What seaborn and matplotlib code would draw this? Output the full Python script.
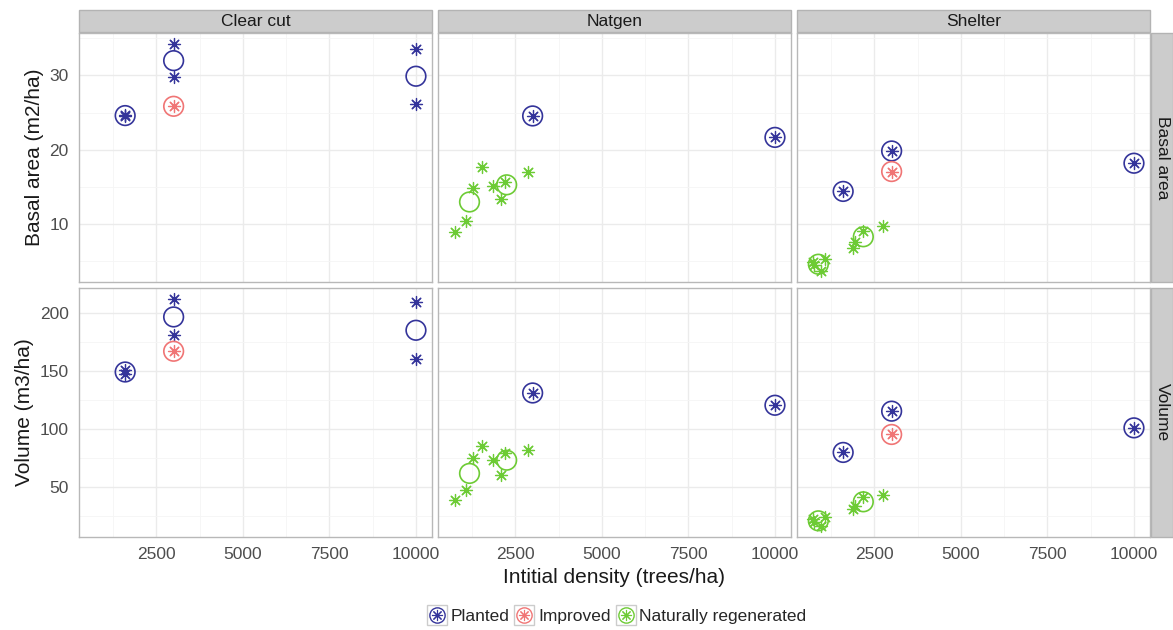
"""
Basal area and volume against initial density, by treatment and origin.
Asterisks are single plots, open circles are the group means.
"""

import matplotlib.pyplot as plt
import pandas as pd
import seaborn as sns
from matplotlib.legend_handler import HandlerTuple
from matplotlib.lines import Line2D
from matplotlib.patches import Rectangle
from matplotlib.ticker import MultipleLocator

treatments = ["Clear cut", "Natgen", "Shelter"]
measures = ["Basal area", "Volume"]
origins = ["Planted", "Improved", "Naturally regenerated"]
y_titles = {"Basal area": "Basal area (m2/ha)", "Volume": "Volume (m3/ha)"}
x_title = "Intitial density (trees/ha)"
x_ticks = [2500, 5000, 7500, 10000]
y_ticks = {"Basal area": [10, 20, 30], "Volume": [50, 100, 150, 200]}

palette = {
    "Planted": "#34349A",
    "Improved": "#F07575",
    "Naturally regenerated": "#6DCB35",
}

P, I, N = origins

# single plots (asterisks)
star_treatment = ["Clear cut"] * 7 + ["Natgen"] * 10 + ["Shelter"] * 12
star_origin = (
    [P] * 6 + [I]
    + [P] * 2 + [N] * 8
    + [P] * 3 + [I] + [N] * 8
)
star_density = [
    1600, 1600, 3000, 3000, 10000, 10000, 3000,
    3000, 10000, 765, 1082, 1272, 1531, 1847, 2089, 2200, 2854,
    1600, 3000, 10000, 3000, 730, 770, 950, 1080, 1880, 1950, 2160, 2740,
]
star_basal = [
    24.7, 24.5, 34.2, 29.8, 33.6, 26.2, 25.85,
    24.55, 21.66, 8.94, 10.36, 14.83, 17.7, 15.05, 13.4, 15.6, 17.06,
    14.38, 19.83, 18.18, 17.06, 4.9, 4.4, 3.7, 5.3, 6.8, 7.5, 9.1, 9.69,
]
star_volume = [
    151.0, 147.0, 211.8, 180.8, 209.5, 160.3, 167.0,
    131.0, 120.4, 38.5, 47.2, 74.5, 85.3, 73.0, 60.1, 78.8, 82.2,
    79.7, 115.3, 100.9, 95.2, 22.5, 19.8, 16.5, 24.0, 30.5, 33.5, 41.0, 43.4,
]

# group means (open circles)
mean_treatment = ["Clear cut"] * 4 + ["Natgen"] * 4 + ["Shelter"] * 6
mean_origin = [P] * 3 + [I] + [P] * 2 + [N] * 2 + [P] * 3 + [I] + [N] * 2
mean_density = [
    1600, 3000, 10000, 3000,
    3000, 10000, 1177, 2250,
    1600, 3000, 10000, 3000, 883, 2182,
]
mean_basal = [
    24.6, 32.0, 29.9, 25.85,
    24.55, 21.66, 12.96, 15.27,
    14.38, 19.83, 18.18, 17.06, 4.57, 8.27,
]
mean_volume = [
    149.1, 196.6, 185.1, 167.0,
    131.0, 120.4, 61.6, 73.0,
    79.7, 115.3, 100.9, 95.2, 20.7, 37.1,
]


def long_table(treatment, origin, density, basal, volume) -> pd.DataFrame:
    """
    Stack basal area and volume into one long table.
    """

    wide = pd.DataFrame(
        {
            "treatment": treatment,
            "origin": origin,
            "density": density,
            "Basal area": basal,
            "Volume": volume,
        }
    )

    return wide.melt(
        id_vars=["treatment", "origin", "density"],
        value_vars=measures,
        var_name="measure",
        value_name="value",
    )


def expanded(values, frac=0.05):
    lo, hi = min(values), max(values)
    pad = (hi - lo) * frac
    return lo - pad, hi + pad


def add_strip(ax, text, side):
    """
    Draw a ggplot style grey strip above or right of a panel.
    """

    if side == "top":
        rect = Rectangle((0, 1.004), 1, 0.088, transform=ax.transAxes)
        ax.text(0.5, 1.048, text, transform=ax.transAxes,
                ha="center", va="center", fontsize=12.5, color="#1A1A1A")
    else:
        rect = Rectangle((1.003, 0), 0.063, 1, transform=ax.transAxes)
        ax.text(1.0345, 0.5, text, transform=ax.transAxes, rotation=-90,
                ha="center", va="center", fontsize=12.5, color="#1A1A1A")

    rect.set(facecolor="#CCCCCC", edgecolor="#B3B3B3", linewidth=1,
             clip_on=False)
    ax.add_patch(rect)


stars = long_table(star_treatment, star_origin, star_density,
                   star_basal, star_volume)
means = long_table(mean_treatment, mean_origin, mean_density,
                   mean_basal, mean_volume)

sns.set_theme(style="white")
plt.rcParams["font.family"] = ["Liberation Sans", "DejaVu Sans"]

g = sns.FacetGrid(
    stars,
    row="measure",
    col="treatment",
    row_order=measures,
    col_order=treatments,
    sharex=True,
    sharey="row",
    despine=False,
)
g.figure.set_size_inches(11.73, 6.3)
g.figure.subplots_adjust(
    left=79 / 1173,
    right=1150 / 1173,
    top=1 - 33 / 630,
    bottom=1 - 537 / 630,
    wspace=6 / 353,
    hspace=6 / 249,
)

x_lim = expanded(star_density + mean_density)
y_lims = {
    "Basal area": expanded(star_basal + mean_basal),
    "Volume": expanded(star_volume + mean_volume),
}
y_minor = {"Basal area": 5, "Volume": 25}

for (measure, treatment), ax in g.axes_dict.items():
    ax.set_title("")
    panel_stars = stars[(stars.measure == measure)
                        & (stars.treatment == treatment)]
    panel_means = means[(means.measure == measure)
                        & (means.treatment == treatment)]

    for origin in origins:
        pts = panel_stars[panel_stars.origin == origin]
        mu = panel_means[panel_means.origin == origin]
        if len(pts):
            sns.scatterplot(data=pts, x="density", y="value",
                            color=palette[origin], marker=(8, 2, 0),
                            s=75, linewidth=0.9, ax=ax, legend=False,
                            zorder=3)
        if len(mu):
            sns.scatterplot(data=mu, x="density", y="value",
                            marker="o", s=200, facecolor="none",
                            edgecolor=palette[origin], linewidth=1.2,
                            ax=ax, legend=False, zorder=4)

    ax.set_xlim(x_lim)
    ax.set_ylim(y_lims[measure])
    ax.set_xticks(x_ticks)
    ax.set_yticks(y_ticks[measure])
    ax.xaxis.set_minor_locator(MultipleLocator(1250))
    ax.yaxis.set_minor_locator(MultipleLocator(y_minor[measure]))
    ax.set_axisbelow(True)
    ax.grid(which="major", color="#EBEBEB", linewidth=1.0)
    ax.grid(which="minor", color="#F5F5F5", linewidth=0.6)

    for spine in ax.spines.values():
        spine.set_color("#B8B8B8")
        spine.set_linewidth(1.0)

    is_left = treatment == treatments[0]
    is_bottom = measure == measures[-1]
    ax.tick_params(axis="x", which="major", labelsize=12.5,
                   labelcolor="#4D4D4D", color="#4D4D4D",
                   length=4 if is_bottom else 0, width=0.8)
    ax.tick_params(axis="y", which="major", labelsize=12.5,
                   labelcolor="#4D4D4D", color="#4D4D4D",
                   length=4 if is_left else 0, width=0.8)
    ax.tick_params(which="minor", length=0)

    ax.set_xlabel("")
    ax.set_ylabel(y_titles[measure] if is_left else "", fontsize=15,
                  color="#1A1A1A")

    if measure == measures[0]:
        add_strip(ax, treatment, "top")
    if treatment == treatments[-1]:
        add_strip(ax, measure, "right")

g.axes_dict[(measures[-1], treatments[1])].set_xlabel(
    x_title, fontsize=15, color="#1A1A1A", labelpad=4
)

handles = []
for origin in origins:
    key = Line2D([], [], marker="s", markersize=15, markerfacecolor="white",
                 markeredgecolor="#CCCCCC", linestyle="")
    ring = Line2D([], [], marker="o", markersize=11, markerfacecolor="none",
                  markeredgecolor=palette[origin], markeredgewidth=1.0,
                  linestyle="")
    star = Line2D([], [], marker=(8, 2, 0), markersize=8,
                  markeredgecolor=palette[origin], markeredgewidth=0.8,
                  linestyle="")
    handles.append((key, ring, star))

g.figure.legend(
    handles,
    origins,
    loc="center",
    bbox_to_anchor=(0.526, 0.021),
    ncol=3,
    frameon=False,
    fontsize=12.5,
    handler_map={tuple: HandlerTuple(ndivide=1, pad=0)},
    handlelength=1.1,
    handletextpad=0.25,
    columnspacing=0.3,
)

g.figure.savefig("out.png", dpi=100)
